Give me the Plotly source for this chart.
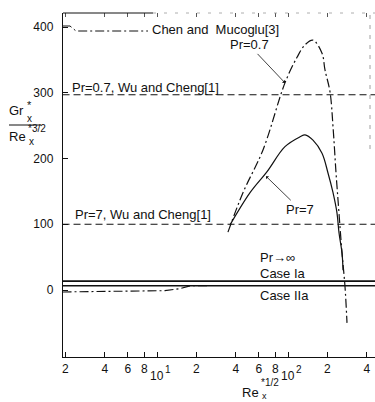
import plotly.graph_objects as go

# ---------------- data ----------------
# Pr = 0.7, Chen and Mucoglu [3] (dash-dot)
re_pr07 = [34.8, 45.3, 64.4, 94.8, 117.2, 134.9, 155.1, 181.8, 191.4, 209.3, 220.6, 232.5, 240.8, 258.4, 272.3, 282.0]
g_pr07 = [88, 148, 213, 315, 354, 373, 380, 360, 335, 301, 248, 178, 137, 56, 5, -50]

# Pr = 7 (solid)
re_pr7 = [36.1, 51.3, 69.2, 94.8, 123.5, 134.9, 155.1, 181.8, 201.9, 220.6, 236.6, 245.0, 258.4, 263.0]
g_pr7 = [99, 148, 180, 218, 233, 236, 228, 208, 178, 148, 117, 87, 56, 30]

# Pr -> infinity, Chen and Mucoglu (dash-dot, merges into Case IIa)
re_inf_chen = [1.9, 11.5, 15.0, 18.0, 25.0]
g_inf_chen = [-3, -1, 2, 6.5, 6.5]

# constant lines
re_span = [1.9, 470]
g_wu_pr07 = [297, 297]
g_wu_pr7 = [100, 100]
g_case_1a = [13.5, 13.5]
g_case_2a = [6.5, 6.5]

x_tickvals = [2, 4, 6, 8, 10, 20, 40, 60, 80, 100, 200, 400]
x_ticktext = ["2", "4", "6", "8", "", "2", "4", "6", "8", "", "2", "4"]
y_tickvals = [0, 100, 200, 300, 400]
y_ticktext = ["0", "100", "200", "300", "400"]

FONT = "Liberation Sans, Arial, sans-serif"
INK = "#111111"

# plot area geometry in pixels (for placing text)
L, R, T, B = 63, 375, 13, 357
W, H = R - L, B - T


def px(xp):
    return (xp - L) / W


def py(yp):
    return (B - yp) / H


fig = go.Figure()

fig.add_trace(go.Scatter(x=re_span, y=g_wu_pr07, mode="lines",
                         line=dict(color=INK, width=1.1, dash="7px,4px"), showlegend=False))
fig.add_trace(go.Scatter(x=re_span, y=g_wu_pr7, mode="lines",
                         line=dict(color=INK, width=1.1, dash="7px,4px"), showlegend=False))
fig.add_trace(go.Scatter(x=re_span, y=g_case_1a, mode="lines",
                         line=dict(color=INK, width=1.8), showlegend=False))
fig.add_trace(go.Scatter(x=re_span, y=g_case_2a, mode="lines",
                         line=dict(color=INK, width=1.4), showlegend=False))
fig.add_trace(go.Scatter(x=re_inf_chen, y=g_inf_chen, mode="lines",
                         line=dict(color=INK, width=1.1, dash="9px,3px,2px,3px"), showlegend=False))
fig.add_trace(go.Scatter(x=re_pr07, y=g_pr07, mode="lines", line_shape="spline",
                         line=dict(color=INK, width=1.2, dash="9px,3px,2px,3px"), showlegend=False))
fig.add_trace(go.Scatter(x=re_pr7, y=g_pr7, mode="lines", line_shape="spline",
                         line=dict(color=INK, width=1.2), showlegend=False))
# dummy trace for the top mirrored tick axis
fig.add_trace(go.Scatter(x=[10], y=[0], xaxis="x2", mode="markers",
                         marker=dict(opacity=0), showlegend=False, hoverinfo="skip"))

ann = []


def txt(text, x, y, size=13, xanchor="left", yanchor="middle", xref="paper", yref="paper", **kw):
    ann.append(dict(text=text, x=x, y=y, xref=xref, yref=yref, showarrow=False,
                    xanchor=xanchor, yanchor=yanchor,
                    font=dict(family=FONT, size=size, color=INK), **kw))


txt("Chen and  Mucoglu[3]", px(150), py(30))
txt("Pr=0.7, Wu and Cheng[1]", px(70), py(87))
txt("Pr=7, Wu and Cheng[1]", px(73), py(215))
txt("Pr\u2192\u221e", px(258), py(257))
txt("Case Ia", px(258), py(273))
txt("Case IIa", px(258), py(295))

# labels with leader arrows
ann.append(dict(text="Pr=0.7", x=2 + (285 - 288) / 131, y=315, xref="x", yref="y",
                showarrow=True, ax=-36, ay=-38, arrowhead=1, arrowsize=0.9, arrowwidth=0.8,
                arrowcolor=INK, font=dict(family=FONT, size=13, color=INK)))
ann.append(dict(text="Pr=7", x=2 + (266 - 288) / 131, y=173, xref="x", yref="y",
                showarrow=True, ax=34, ay=33, arrowhead=1, arrowsize=0.9, arrowwidth=0.8,
                arrowcolor=INK, font=dict(family=FONT, size=13, color=INK)))

# decade tick labels (lowered, as in the original)
for dec, sup in [(10, "1"), (100, "2")]:
    ann.append(dict(text="10", x=(1 if dec == 10 else 2), y=py(376), xref="x", yref="paper",
                    showarrow=False, xanchor="center", yanchor="middle",
                    font=dict(family=FONT, size=12, color=INK)))
    ann.append(dict(text=sup, x=(1 if dec == 10 else 2), y=py(369), xref="x", yref="paper",
                    showarrow=False, xanchor="left", yanchor="middle", xshift=6,
                    font=dict(family=FONT, size=10, color=INK)))

# y-axis title as a fraction
txt("Gr", px(26), py(111), size=13, xanchor="right")
txt("x", px(25), py(118), size=10)
txt("*", px(25), py(105), size=11)
txt("Re", px(28), py(136), size=13, xanchor="right")
txt("x", px(27), py(141), size=10)
txt("*3/2", px(26), py(128), size=10)

# x-axis title
txt("Re", px(261), py(392), size=13, xanchor="right")
txt("*1/2", px(259), py(383), size=10)
txt("x", px(260), py(396), size=9)

shapes = [
    # fraction bar
    dict(type="line", xref="paper", yref="paper", x0=px(9), x1=px(41), y0=py(125), y1=py(125),
         line=dict(color=INK, width=1)),
    # legend sample for Chen and Mucoglu
    dict(type="path", xref="paper", yref="paper",
         path=f"M {px(63)},{py(26)} L {px(70)},{py(26)} L {px(76)},{py(31)} L {px(148)},{py(31)}",
         line=dict(color=INK, width=1, dash="9px,3px,2px,3px")),
    # top border (visible part)
    dict(type="line", xref="paper", yref="paper", x0=0, x1=px(153), y0=1, y1=1,
         line=dict(color=INK, width=1)),
    dict(type="line", xref="paper", yref="paper", x0=px(153), x1=1, y0=1, y1=1,
         line=dict(color="#999999", width=0.8, dash="3px,8px")),
    # faint right border
    dict(type="line", xref="paper", yref="paper", x0=px(370), x1=px(370), y0=py(15), y1=py(150),
         line=dict(color="#888888", width=0.8, dash="4px,6px")),
]

fig.update_layout(
    width=375, height=402,
    margin=dict(l=L, r=375 - R, t=T, b=402 - B),
    paper_bgcolor="white", plot_bgcolor="white",
    font=dict(family=FONT, size=12, color=INK),
    showlegend=False,
    annotations=ann, shapes=shapes,
    xaxis=dict(type="log", range=[0.2824, 2.664], tickvals=x_tickvals, ticktext=x_ticktext,
               ticks="inside", ticklen=5, tickwidth=1, tickcolor=INK,
               showline=True, linecolor=INK, linewidth=1.2, showgrid=False, zeroline=False,
               tickfont=dict(family=FONT, size=12, color=INK)),
    xaxis2=dict(type="log", overlaying="x", matches="x", side="top", range=[0.2824, 2.664],
                tickvals=x_tickvals, showticklabels=False, ticks="inside", ticklen=4,
                tickcolor="#555555", showline=False, showgrid=False, zeroline=False),
    yaxis=dict(range=[-101.9, 421.3], tickvals=y_tickvals, ticktext=y_ticktext,
               ticks="inside", ticklen=5, tickwidth=1, tickcolor=INK,
               showline=True, linecolor=INK, linewidth=1.4, showgrid=False, zeroline=False,
               ticklabelstandoff=6, tickfont=dict(family=FONT, size=12, color=INK)),
)

fig.write_html("out.html", config={"displayModeBar": False},
               post_script="document.body.style.margin='0';document.body.style.overflow='hidden';")
